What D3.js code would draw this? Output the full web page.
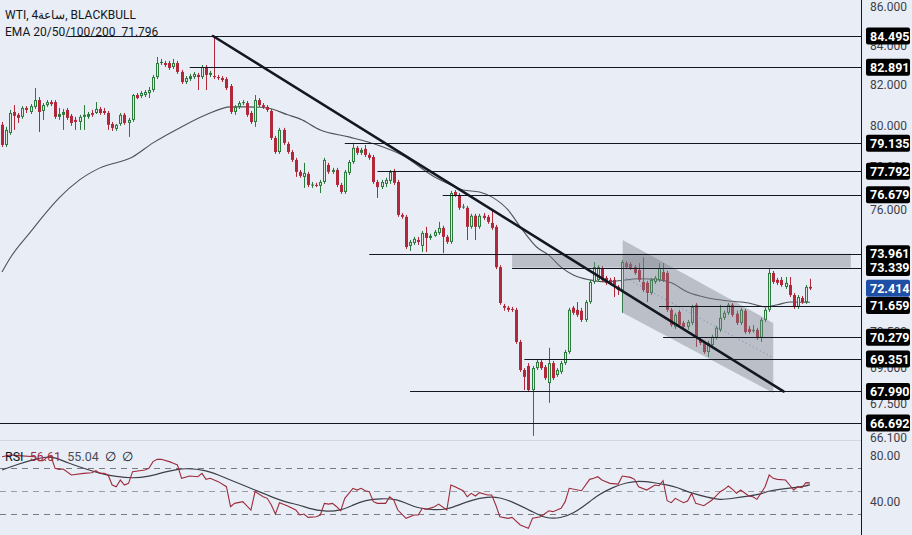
<!DOCTYPE html>
<html><head><meta charset="utf-8">
<script src="https://cdn.jsdelivr.net/npm/d3@7"></script>
<style>html,body{margin:0;padding:0;background:#e9edf5;overflow:hidden}svg{display:block;font-family:Roboto,"Liberation Sans",Arial,sans-serif}</style>
</head><body><svg id="c" width="912" height="535"></svg>
<script>
// ---- candle data (WTI 4h) ----
const opens=[80.03,79.05,79.63,80.66,80.52,80.42,80.86,80.66,80.91,81.25,
80.71,81.00,81.15,81.15,80.42,80.52,80.76,80.47,80.27,80.17,
80.42,80.42,80.61,80.61,80.81,80.71,80.61,80.07,79.83,80.07,
80.52,80.12,80.27,81.50,81.45,81.50,81.60,81.75,82.40,83.11,
83.11,83.11,82.91,83.11,82.66,82.15,82.30,82.40,82.51,82.40,
82.91,82.51,82.45,82.40,82.35,82.30,81.95,80.66,80.91,81.10,
81.10,80.61,80.17,81.25,81.00,80.91,80.71,79.39,78.71,79.78,
79.10,78.71,78.33,77.76,77.52,77.66,77.14,77.14,77.10,77.28,
78.09,77.76,77.85,77.14,76.81,77.71,78.23,78.91,78.67,78.86,
78.57,78.47,77.28,77.04,77.19,77.33,77.76,77.28,75.74,75.65,
74.32,74.45,74.59,74.32,74.91,74.68,74.78,74.91,75.14,74.73,
74.50,76.81,76.67,76.11,76.07,75.19,75.70,75.19,75.70,75.65,
75.37,75.19,73.36,71.64,71.56,71.51,71.47,70.08,68.89,69.06,
68.05,68.97,69.23,69.01,68.34,69.18,68.68,68.81,69.18,69.65,
71.56,71.47,71.43,71.03,71.81,72.70,72.79,73.32,72.88,72.79,
72.79,72.48,72.34,73.54,73.50,73.36,73.23,72.70,72.66,72.21,
72.70,72.79,73.14,73.10,71.47,70.73,71.38,70.90,70.73,70.90,
71.69,70.17,70.04,69.65,69.95,70.26,70.60,71.12,71.34,71.69,
71.30,70.90,71.43,70.64,70.56,70.60,70.26,71.03,71.47,73.10,
72.79,72.79,72.48,72.56,72.12,71.60,71.99,71.81,72.48];
const highs=[80.17,79.93,80.76,81.00,80.61,80.95,80.95,81.05,81.85,81.40,
81.10,81.25,81.25,81.25,80.86,80.81,80.86,80.56,80.42,80.52,
81.00,80.66,80.76,81.15,80.91,80.86,80.71,80.17,80.07,80.61,
80.61,80.37,81.55,81.60,81.70,81.75,81.90,82.51,83.42,83.32,
83.22,83.22,83.32,83.22,82.76,82.45,82.56,82.66,82.61,83.01,
83.01,82.71,84.50,82.51,82.45,82.40,82.05,81.00,81.20,81.25,
81.20,80.71,81.50,81.35,81.10,81.00,80.81,79.49,79.88,79.88,
79.20,78.81,78.43,77.85,78.19,77.76,77.28,77.24,77.38,78.43,
78.19,77.95,77.95,77.24,77.85,78.33,79.15,79.00,78.91,79.05,
78.67,78.57,77.38,77.38,77.48,77.85,77.90,77.38,75.83,75.74,
74.59,74.73,74.73,75.00,75.19,74.87,75.05,75.42,75.24,74.82,
76.86,76.90,76.76,76.25,76.16,75.79,75.79,75.79,75.83,75.74,
75.97,75.28,73.45,71.73,71.64,71.60,71.56,70.17,68.97,69.18,
69.06,69.31,69.31,69.10,69.83,69.27,68.97,69.27,69.74,71.56,
71.64,71.81,71.56,71.90,72.79,73.59,73.45,73.41,72.97,72.88,
72.92,72.56,73.68,73.63,73.59,73.45,73.54,73.81,72.75,72.88,
72.97,73.54,73.54,73.19,71.56,71.34,71.47,70.99,71.03,71.69,
71.77,70.26,70.13,70.13,70.39,70.77,71.69,71.43,71.77,71.77,
71.43,71.56,71.51,70.77,70.81,70.69,71.12,71.56,73.32,73.19,
72.88,72.92,72.92,72.92,72.21,72.12,72.08,72.56,72.84];
const lows=[78.95,78.95,79.54,79.78,80.12,80.32,80.61,80.56,80.81,79.68,
80.27,80.91,80.95,80.32,80.27,79.78,80.27,79.98,79.78,79.78,
79.78,80.32,80.42,80.56,80.52,80.52,79.78,79.73,79.73,79.98,
80.03,79.44,80.17,81.30,81.35,81.40,81.35,81.65,82.30,83.01,
82.91,82.76,82.81,82.56,82.05,82.05,82.20,82.30,81.75,82.30,
81.75,82.40,82.30,82.25,82.15,81.75,80.56,80.52,80.81,81.00,
80.42,80.07,79.93,80.91,80.81,80.66,79.29,78.62,78.62,79.05,
78.62,78.23,77.52,77.48,77.00,77.04,77.00,77.04,76.76,77.19,
77.66,77.66,77.04,76.72,76.72,77.61,78.14,78.57,78.57,78.47,
78.33,77.19,76.53,76.95,77.04,77.19,77.14,75.65,75.56,74.18,
74.09,74.36,74.36,74.04,74.04,74.59,74.73,74.82,73.99,74.41,
74.41,76.58,75.97,76.02,74.59,75.10,74.59,75.10,75.51,75.33,
75.05,73.27,71.69,71.43,71.38,71.38,70.00,68.81,68.05,67.97,
66.17,68.89,68.89,68.47,67.52,68.47,68.60,68.72,69.10,69.57,
71.25,71.16,70.94,70.94,71.73,72.61,72.70,72.70,72.56,72.56,
72.03,72.12,71.34,73.27,73.23,73.01,72.70,72.25,71.81,72.12,
72.61,72.70,72.70,71.38,70.73,70.64,70.73,70.64,70.60,70.81,
69.87,69.95,69.57,69.44,69.87,70.17,70.51,71.03,71.25,71.16,
70.81,70.81,70.43,70.43,70.47,70.17,70.08,70.94,71.38,72.61,
72.56,72.48,72.39,72.03,71.51,71.51,71.73,71.73,72.34];
const closes=[79.05,79.78,80.61,80.47,80.37,80.86,80.76,80.95,81.25,80.66,
81.00,81.15,81.05,80.42,80.56,80.66,80.37,80.12,80.17,80.42,
80.52,80.56,80.52,80.81,80.61,80.61,80.03,79.88,80.03,80.52,
80.12,80.27,81.50,81.35,81.60,81.65,81.75,82.40,83.11,83.17,
83.01,82.86,83.11,82.66,82.15,82.35,82.45,82.56,82.40,82.91,
82.51,82.61,82.40,82.35,82.25,81.85,80.66,80.91,81.10,81.15,
80.52,80.17,81.25,81.00,80.91,80.76,79.39,78.71,79.78,79.15,
78.71,78.33,77.76,77.57,77.71,77.14,77.16,77.10,77.28,78.33,
77.76,77.85,77.14,76.81,77.76,78.23,78.91,78.67,78.81,78.57,
78.43,77.28,77.04,77.28,77.38,77.76,77.24,75.74,75.65,74.27,
74.50,74.64,74.50,74.91,74.68,74.78,74.96,75.14,74.73,74.50,
76.76,76.67,76.07,76.13,75.19,75.70,75.19,75.70,75.60,75.42,
75.14,73.36,71.77,71.56,71.47,71.47,70.08,68.89,68.60,68.05,
68.97,69.23,68.97,68.55,69.18,68.55,68.89,69.18,69.65,71.47,
71.34,71.25,71.03,71.81,72.70,73.36,73.36,72.79,72.66,72.66,
72.56,72.34,73.59,73.36,73.32,73.10,72.79,72.34,72.21,72.79,
72.88,73.32,72.79,71.47,70.81,71.25,70.81,70.73,70.94,71.60,
70.30,70.04,69.65,70.04,70.30,70.69,71.12,71.34,71.69,71.25,
70.90,71.47,70.51,70.51,70.60,70.26,71.03,71.47,73.10,72.70,
72.66,72.56,72.66,72.12,71.60,72.03,71.81,72.48,72.41];

// EMA line points [bar index, price]
const emaPoints=[[0,73.14],[2,73.77],[7,74.96],[12,76.11],[14,76.53],[19,77.38],[24,77.95],[32,78.47],[37,79.15],[44,79.93],[50,80.52],[56,80.91],[60,80.91],[65,80.86],[70,80.52],[73,80.32],[78,79.78],[85,79.44],[92,79.05],[98,78.57],[106,77.52],[110,77.14],[113,76.90],[117,76.81],[120,76.58],[124,75.97],[127,75.19],[131,74.27],[134,73.90],[137,73.36],[140,73.01],[144,72.79],[148,72.70],[151,72.75],[156,72.84],[161,72.79],[164,72.66],[168,72.25],[173,71.99],[178,71.86],[183,71.77],[187,71.60],[190,71.69],[193,71.81],[198,71.80]];

// horizontal levels
const levelValues=[84.495,82.891,79.135,77.792,76.679,73.961,73.339,71.659,70.279,69.351,67.990,66.692];
const levelStarts=[16,46,84,92,108,90,125,161,162,128,100,-1];
const lastPrice=72.414;
const emaLabel="71.796";

// drawings
const trendLine=[[51.7,84.495],[191.5,67.99]];
const zoneRect={from:125,to:208,top:73.961,bottom:73.339};
const channel=[[152.1,74.59],[189,70.90],[189,67.93],[152.1,71.34]];
const channelMid=[[152.1,72.95],[189,69.40]];

const priceTicks=[86,84,82,80,78,76,70.5,69,67.5,66.1];

// RSI [bar index, value]
const rsiPoints=[[0,79.4],[2,80.9],[4,80.3],[8,79.4],[9,75.9],[10,75.9],[11,78.8],[12,80.0],[13,69.3],[14,68.4],[15,68.7],[17,63.5],[20,64.9],[22,65.5],[23,67.2],[24,64.9],[25,64.9],[26,63.5],[27,54.8],[28,53.3],[29,59.1],[30,54.8],[31,56.2],[32,66.4],[35,67.8],[36,69.3],[37,75.1],[38,77.1],[39,77.1],[41,75.1],[42,73.6],[43,72.2],[44,60.6],[46,62.6],[48,62.0],[49,64.9],[50,59.7],[51,60.6],[53,57.7],[55,53.3],[56,35.9],[57,38.8],[59,40.3],[61,33.0],[62,49.0],[64,44.6],[65,43.2],[66,37.4],[67,29.5],[68,39.4],[70,36.5],[72,33.0],[73,28.7],[74,29.5],[75,26.6],[77,27.2],[78,28.7],[79,38.8],[80,38.2],[81,38.8],[82,35.9],[83,32.4],[84,43.2],[86,51.9],[87,50.4],[88,51.9],[89,49.8],[90,49.0],[91,40.3],[92,38.8],[94,38.8],[95,44.6],[96,41.7],[97,33.0],[99,25.8],[101,28.7],[102,28.7],[103,34.5],[104,33.6],[106,35.9],[107,38.2],[109,33.0],[110,54.8],[111,53.3],[113,49.8],[114,44.6],[115,47.5],[116,45.2],[117,48.1],[119,46.1],[120,46.1],[121,37.4],[122,27.2],[124,25.8],[125,26.6],[127,20.0],[129,17.1],[130,25.8],[132,27.2],[134,32.4],[135,31.6],[137,34.5],[138,40.3],[139,51.9],[142,49.8],[144,59.7],[145,60.6],[146,62.0],[147,59.1],[148,57.7],[149,56.2],[151,55.6],[152,62.6],[154,61.4],[155,59.7],[156,53.3],[158,50.4],[160,54.8],[161,54.2],[162,58.5],[163,41.1],[164,39.4],[165,43.2],[167,39.4],[168,40.9],[169,47.5],[170,38.8],[172,36.8],[174,41.7],[176,49.0],[177,51.0],[178,53.9],[179,51.0],[180,47.5],[181,50.4],[183,45.2],[184,44.6],[185,42.3],[187,53.3],[188,63.5],[189,60.6],[190,59.7],[192,59.1],[193,54.8],[194,50.4],[195,53.3],[196,52.4],[197,56.8],[198,56.61]];
const rsiMaPoints=[[0,67.8],[4,73.0],[8,77.1],[11,79.4],[13,78.8],[16,74.2],[20,69.3],[24,64.9],[28,62.0],[32,60.6],[36,62.0],[40,66.4],[43,68.4],[45,69.3],[50,67.8],[53,63.5],[57,57.7],[62,50.4],[65,46.1],[69,40.3],[73,37.4],[75,34.5],[79,31.6],[83,32.4],[86,37.4],[89,41.7],[93,43.2],[97,42.3],[99,38.8],[102,34.5],[106,33.0],[109,33.6],[112,37.4],[115,41.7],[119,44.6],[122,44.0],[125,40.3],[130,31.6],[133,25.8],[137,25.8],[140,30.1],[143,37.4],[146,46.1],[150,53.3],[153,56.8],[156,58.5],[160,56.8],[163,54.8],[165,53.3],[169,47.5],[173,44.0],[176,41.7],[179,43.2],[183,45.2],[186,46.9],[188,49.8],[191,51.3],[194,52.4],[197,53.9],[198,55.04]];
const rsiLevels=[70,50,30];
const rsiTicks=[80,40];
const rsiLabel={rsi:"56.61",ma:"55.04"};

// ---- drawing ----
const W=912,H=535,axisX=861;
const svg=d3.select("#c");
svg.append("rect").attr("width",W).attr("height",H).attr("fill","#e9edf5");
const x=d3.scaleLinear().domain([0,198]).range([2,810]);
const y=d3.scaleLog().domain([84.495,66.692]).range([36,423]);
const yR=d3.scaleLinear().domain([30,70]).range([513.5,467.5]);
const pLine=d3.line().x(d=>x(d[0])).y(d=>y(d[1]));

const defs=svg.append("defs");
defs.append("clipPath").attr("id","pp").append("rect").attr("x",0).attr("y",0).attr("width",axisX).attr("height",440);
defs.append("clipPath").attr("id","rp").append("rect").attr("x",0).attr("y",441).attr("width",axisX).attr("height",94);

const price=svg.append("g").attr("clip-path","url(#pp)");
const GREEN="#2a7a3b",RED="#b0283a",INK="#131722";

// EMA
price.append("path").datum(emaPoints)
 .attr("d",d3.line().x(d=>x(d[0])).y(d=>y(d[1])).curve(d3.curveMonotoneX))
 .attr("fill","none").attr("stroke","#4f5259").attr("stroke-width",1.1);

// candles
const cg=price.append("g");
closes.forEach((c,i)=>{
  const o=opens[i],h=highs[i],l=lows[i];
  const up=c>=o, col=up?GREEN:RED;
  const cx=Math.round(x(i));
  cg.append("line").attr("x1",cx+0.5).attr("x2",cx+0.5).attr("y1",y(h)).attr("y2",y(l)).attr("stroke",col).attr("stroke-width",1);
  const top=y(Math.max(o,c)),bot=y(Math.min(o,c));
  const hgt=Math.max(1,bot-top);
  cg.append("rect").attr("x",cx-1).attr("y",top).attr("width",3).attr("height",hgt).attr("fill",col);
  if(up&&hgt>3){
    cg.append("rect").attr("x",cx).attr("y",top+1).attr("width",1).attr("height",hgt-2).attr("fill","#dfe9e3");
  }
});

// zone rectangle
price.append("rect").attr("x",x(zoneRect.from)).attr("y",y(zoneRect.top))
 .attr("width",x(zoneRect.to)-x(zoneRect.from)).attr("height",y(zoneRect.bottom)-y(zoneRect.top))
 .attr("fill","#7c808b").attr("opacity",0.42);
// channel
price.append("path").datum(channel)
 .attr("d",d=>pLine(d)+"Z")
 .attr("fill","#7c808b").attr("opacity",0.42);
price.append("path").datum(channelMid)
 .attr("d",pLine)
 .attr("stroke","#6f86bb").attr("stroke-width",1).attr("stroke-dasharray","1,3").attr("fill","none");

// horizontal levels
levelValues.forEach((v,k)=>{
  const yy=Math.round(y(v))+0.5;
  price.append("line").attr("x1",levelStarts[k]<0?0:x(levelStarts[k])).attr("x2",axisX).attr("y1",yy).attr("y2",yy)
   .attr("stroke",INK).attr("stroke-width",1);
});

// trend line
price.append("path").datum(trendLine)
 .attr("d",pLine)
 .attr("stroke",INK).attr("stroke-width",2.6).attr("fill","none").attr("stroke-linecap","round");

// pane separator
svg.append("line").attr("x1",0).attr("x2",axisX).attr("y1",440.5).attr("y2",440.5).attr("stroke","#d3d6de");

// price axis
svg.append("line").attr("x1",axisX+0.5).attr("x2",axisX+0.5).attr("y1",0).attr("y2",H).attr("stroke",INK);
const ax=svg.append("g");
priceTicks.forEach(t=>{
  ax.append("text").attr("x",870).attr("y",y(t)).attr("dy","0.35em").attr("font-size",12).attr("fill","#3b3f4a").text(t.toFixed(3));
});
levelValues.forEach(v=>{
  const yy=y(v);
  ax.append("rect").attr("x",866).attr("y",yy-8.5).attr("width",44).attr("height",17).attr("rx",2).attr("fill","#000");
  ax.append("text").attr("x",870).attr("y",yy).attr("dy","0.36em").attr("font-size",12.5).attr("font-weight","bold").attr("fill","#fff").text(v.toFixed(3));
});
{
  const yy=y(lastPrice);
  ax.append("rect").attr("x",866).attr("y",yy-8.5).attr("width",44).attr("height",17).attr("rx",2).attr("fill","#1e4fa6");
  ax.append("text").attr("x",870).attr("y",yy).attr("dy","0.36em").attr("font-size",12.5).attr("font-weight","bold").attr("fill","#fff").text(lastPrice.toFixed(3));
}

// header
const hd=svg.append("g").attr("font-size",12).attr("fill",INK);
hd.append("text").attr("x",5).attr("y",19).text("WTI, 4ساعة, BLACKBULL");
hd.append("text").attr("x",5).attr("y",36).attr("xml:space","preserve").text("EMA 20/50/100/200  "+emaLabel);

// RSI pane
const rp=svg.append("g").attr("clip-path","url(#rp)");
rsiLevels.forEach(v=>{
  rp.append("line").attr("x1",0).attr("x2",axisX).attr("y1",Math.round(yR(v))+0.5).attr("y2",Math.round(yR(v))+0.5)
   .attr("stroke",v===50?"#9a9da6":"#787b86").attr("stroke-dasharray","6,5").attr("stroke-width",1);
});
rp.append("path").datum(rsiMaPoints)
 .attr("d",d3.line().x(d=>x(d[0])).y(d=>yR(d[1])).curve(d3.curveBasis))
 .attr("fill","none").attr("stroke","#3d4048").attr("stroke-width",1.2);
rp.append("path").datum(rsiPoints)
 .attr("d",d3.line().x(d=>x(d[0])).y(d=>yR(d[1])))
 .attr("fill","none").attr("stroke","#9e2b3c").attr("stroke-width",1.1);
rsiTicks.forEach(t=>{
  svg.append("text").attr("x",870).attr("y",yR(t)).attr("dy","0.35em").attr("font-size",12).attr("fill","#3b3f4a").text(t.toFixed(2));
});
const rl=svg.append("text").attr("x",5).attr("y",461).attr("font-size",12.5).attr("xml:space","preserve");
rl.append("tspan").attr("fill",INK).text("RSI  ");
rl.append("tspan").attr("fill","#9e2b3c").text(rsiLabel.rsi+"  ");
rl.append("tspan").attr("fill","#4a4d55").text(rsiLabel.ma+"  ");
rl.append("tspan").attr("fill",INK).text("∅  ∅");
</script>
</body></html>
